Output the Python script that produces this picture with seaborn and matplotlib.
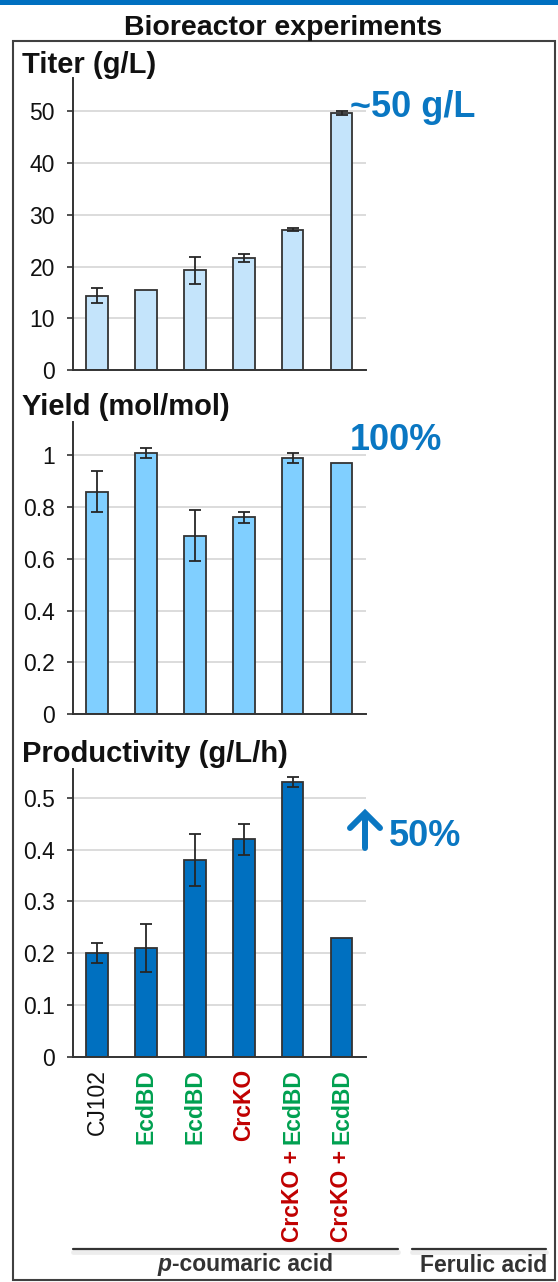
import matplotlib
matplotlib.use("Agg")
import matplotlib.pyplot as plt
import matplotlib.patheffects as pe
from matplotlib.lines import Line2D
from matplotlib.patches import Rectangle
import numpy as np
import pandas as pd
import seaborn as sns

# ---- data -------------------------------------------------------------
strain_keys = ["CJ102", "EcdBD-1", "EcdBD-2", "CrcKO", "CrcKO+EcdBD-pCA", "CrcKO+EcdBD-FA"]

titer = [14.4, 15.5, 19.3, 21.7, 27.1, 49.7]
titer_err = [1.5, None, 2.6, 0.8, 0.3, 0.4]

yield_ = [0.86, 1.01, 0.69, 0.76, 0.99, 0.97]
yield_err = [0.08, 0.02, 0.10, 0.02, 0.02, None]

productivity = [0.20, 0.21, 0.38, 0.42, 0.53, 0.23]
productivity_err = [0.02, 0.047, 0.05, 0.03, 0.01, None]

titer_ticks = [0, 10, 20, 30, 40, 50]
yield_ticks = [0, 0.2, 0.4, 0.6, 0.8, 1.0]
yield_ticklabels = ["0", "0.2", "0.4", "0.6", "0.8", "1"]
prod_ticks = [0, 0.1, 0.2, 0.3, 0.4, 0.5]
prod_ticklabels = ["0", "0.1", "0.2", "0.3", "0.4", "0.5"]

# (text, colour, weight) pieces for each x label, read bottom-to-top
label_parts = [
    [("CJ102", "#111111", "normal")],
    [("EcdBD", "#00A050", "bold")],
    [("EcdBD", "#00A050", "bold")],
    [("CrcKO", "#C00000", "bold")],
    [("CrcKO +", "#C00000", "bold"), ("EcdBD", "#00A050", "bold")],
    [("CrcKO +", "#C00000", "bold"), ("EcdBD", "#00A050", "bold")],
]

# ---- style ------------------------------------------------------------
sns.set_style("white")
plt.rcParams["font.family"] = ["Liberation Sans", "DejaVu Sans"]

W, H = 558, 1282
fig = plt.figure(figsize=(W / 100, H / 100), dpi=100)


def fx(x):
    return x / W


def fy(y):
    return 1 - y / H


ACCENT = "#0A77C2"
INK = "#111111"
SPINE = "#333333"

panels = [
    dict(vals=titer, err=titer_err, color="#C4E4FB", top=78.3, bottom=370.0,
         ylim=56.4, ticks=titer_ticks, ticklabels=[str(t) for t in titer_ticks],
         title="Titer (g/L)", title_y=73),
    dict(vals=yield_, err=yield_err, color="#80CFFF", top=421.7, bottom=714.0,
         ylim=1.13, ticks=yield_ticks, ticklabels=yield_ticklabels,
         title="Yield (mol/mol)", title_y=415),
    dict(vals=productivity, err=productivity_err, color="#0070C0", top=769.3, bottom=1056.7,
         ylim=0.555, ticks=prod_ticks, ticklabels=prod_ticklabels,
         title="Productivity (g/L/h)", title_y=762),
]

x_left, x_right = 72.7, 366.0
axes = []
for p in panels:
    ax = fig.add_axes([fx(x_left), fy(p["bottom"]), (x_right - x_left) / W,
                       (p["bottom"] - p["top"]) / H])
    df = pd.DataFrame({"strain": strain_keys, "value": p["vals"]})
    sns.barplot(data=df, x="strain", y="value", order=strain_keys, color=p["color"],
                saturation=1, width=0.44, edgecolor=SPINE, linewidth=1.3,
                errorbar=None, ax=ax)
    idx = [i for i, e in enumerate(p["err"]) if e is not None]
    ax.errorbar(idx, [p["vals"][i] for i in idx], yerr=[p["err"][i] for i in idx],
                fmt="none", ecolor="#262626", elinewidth=1.3, capsize=4.2,
                capthick=1.3, zorder=5)
    ax.set_xlim(-0.5, 5.5)
    ax.set_ylim(0, p["ylim"])
    ax.set_yticks(p["ticks"])
    ax.set_yticklabels(p["ticklabels"])
    ax.set_xticks(range(len(strain_keys)))
    ax.set_xticklabels([])
    ax.set_xlabel("")
    ax.set_ylabel("")
    ax.yaxis.grid(True, color="#D9D9D9", linewidth=1.3)
    ax.set_axisbelow(True)
    for s in ("top", "right"):
        ax.spines[s].set_visible(False)
    for s in ("left", "bottom"):
        ax.spines[s].set_color(SPINE)
        ax.spines[s].set_linewidth(1.4)
    ax.tick_params(axis="y", length=4.3, width=1.2, color=SPINE, pad=8.5,
                   labelsize=16.5, labelcolor=INK, left=True)
    ax.tick_params(axis="x", length=0)
    fig.text(fx(22), fy(p["title_y"]), p["title"], fontsize=21, fontweight="bold",
             color=INK, va="baseline", ha="left")
    axes.append(ax)

ax_bottom = axes[-1]

# ---- x labels (multi-coloured, rotated) --------------------------------
fig.canvas.draw()
renderer = fig.canvas.get_renderer()
space_pt = 4.6
for i, parts in enumerate(label_parts):
    offset = -9.0
    for text, col, wt in reversed(parts):
        t = ax_bottom.annotate(text, xy=(i, 0), xycoords=("data", "axes fraction"),
                               xytext=(0, offset), textcoords="offset points",
                               rotation=90, ha="center", va="top", fontsize=16.5,
                               fontweight=wt, color=col, annotation_clip=False)
        ext = t.get_window_extent(renderer=renderer)
        offset -= ext.height * 72 / fig.dpi + space_pt

# ---- figure decorations -------------------------------------------------
fig.add_artist(Rectangle((0, fy(5)), 1, 5 / H, transform=fig.transFigure,
                         facecolor="#0070C0", edgecolor="none"))
fig.add_artist(Rectangle((fx(12.7), fy(1280)), (555 - 12.7) / W, (1280 - 40.7) / H,
                         transform=fig.transFigure, facecolor="none",
                         edgecolor="#404040", linewidth=1.5))
fig.text(fx(283), fy(35), "Bioreactor experiments", fontsize=20.5, fontweight="bold",
         color=INK, ha="center", va="baseline")

# group brackets with a faint shadow
shadow = [pe.SimpleLineShadow(offset=(0, -2.5), shadow_color="#bbbbbb", alpha=0.25,
                              linewidth=3.5), pe.Normal()]
for x0, x1 in [(72.7, 398), (411.7, 545.7)]:
    fig.add_artist(Line2D([fx(x0), fx(x1)], [fy(1249), fy(1249)],
                          transform=fig.transFigure, color="#333333", linewidth=1.6,
                          path_effects=shadow))

# "p-coumaric acid" with italic p
p_txt = fig.text(0, fy(1271), "p", fontsize=16.5, fontweight="bold", fontstyle="italic",
                 color="#333333", ha="left", va="baseline")
rest_txt = fig.text(0, fy(1271), "-coumaric acid", fontsize=16.5, fontweight="bold",
                    color="#333333", ha="left", va="baseline")
fig.canvas.draw()
wp = p_txt.get_window_extent(renderer=renderer).width
wr = rest_txt.get_window_extent(renderer=renderer).width
x_start = 245 - (wp + wr) / 2
p_txt.set_x(fx(x_start))
rest_txt.set_x(fx(x_start + wp))
fig.text(fx(420), fy(1272), "Ferulic acid", fontsize=16.5, fontweight="bold",
         color="#333333", ha="left", va="baseline")

# callouts
fig.text(fx(350), fy(117), "~50 g/L", fontsize=26, fontweight="bold", color=ACCENT,
         ha="left", va="baseline")
fig.text(fx(350), fy(450), "100%", fontsize=26, fontweight="bold", color=ACCENT,
         ha="left", va="baseline")
fig.text(fx(389), fy(846), "50%", fontsize=26, fontweight="bold", color=ACCENT,
         ha="left", va="baseline")
fig.add_artist(Line2D([fx(365), fx(365)], [fy(848), fy(814)], transform=fig.transFigure,
                      color=ACCENT, linewidth=4.3, solid_capstyle="round"))
fig.add_artist(Line2D([fx(350), fx(365), fx(380)], [fy(828), fy(813), fy(828)],
                      transform=fig.transFigure, color=ACCENT, linewidth=4.3,
                      solid_capstyle="round", solid_joinstyle="miter"))

fig.savefig("out.png", dpi=100)
